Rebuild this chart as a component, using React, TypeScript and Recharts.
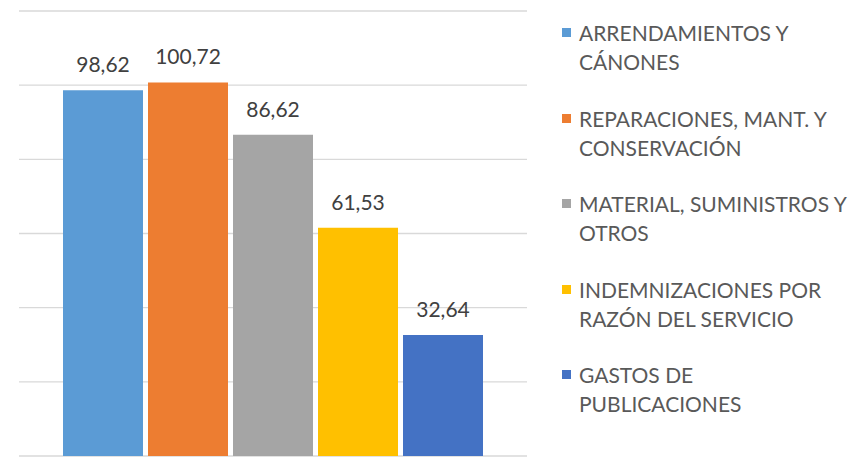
import { BarChart, Bar, XAxis, YAxis, CartesianGrid, LabelList } from "recharts";

const seriesNames = [
  "ARRENDAMIENTOS Y CÁNONES",
  "REPARACIONES, MANT. Y CONSERVACIÓN",
  "MATERIAL, SUMINISTROS Y OTROS",
  "INDEMNIZACIONES POR RAZÓN DEL SERVICIO",
  "GASTOS DE PUBLICACIONES",
];
const seriesValues = [98.62, 100.72, 86.62, 61.53, 32.64];
const seriesColors = ["#5B9BD5", "#ED7D31", "#A5A5A5", "#FFC000", "#4472C4"];
const yTicks = [0, 20, 40, 60, 80, 100, 120];

const row: Record<string, number | string> = { name: "" };
seriesValues.forEach((v, i) => {
  row["s" + i] = v;
});
const data = [row];

const font = "Lato, 'Open Sans', sans-serif";
const fmt = (v: any) => Number(v).toFixed(2).replace(".", ",");

function SideLegend() {
  return (
    <div style={{ position: "absolute", left: 562, top: 18, fontFamily: font }}>
      {seriesNames.map((n, i) => (
        <div key={n} style={{ display: "flex", alignItems: "flex-start", marginBottom: 27.5 }}>
          <div
            style={{
              width: 9,
              height: 9,
              marginTop: 10,
              marginRight: 8,
              background: seriesColors[i],
              flexShrink: 0,
            }}
          />
          <div style={{ width: 268, fontSize: 21, lineHeight: "29px", color: "#595959" }}>{n}</div>
        </div>
      ))}
    </div>
  );
}

export default function App() {
  return (
    <div style={{ position: "absolute", left: 0, top: 0, width: 859, height: 458, background: "#fff" }}>
      <BarChart
        width={859}
        height={458}
        data={data}
        margin={{ top: 11, right: 332, bottom: 2, left: 19 }}
        barSize={80}
        barGap={5}
      >
        <CartesianGrid vertical={false} stroke="#D9D9D9" strokeWidth={1.3} />
        <XAxis dataKey="name" hide />
        <YAxis hide domain={[0, 120]} ticks={yTicks} />
        {seriesNames.map((n, i) => (
          <Bar key={n} dataKey={"s" + i} name={n} fill={seriesColors[i]} isAnimationActive={false}>
            <LabelList
              dataKey={"s" + i}
              position="top"
              offset={18}
              formatter={fmt}
              fill="#404040"
              style={{ fontFamily: font, fontSize: 21 }}
            />
          </Bar>
        ))}
      </BarChart>
      <SideLegend />
    </div>
  );
}
